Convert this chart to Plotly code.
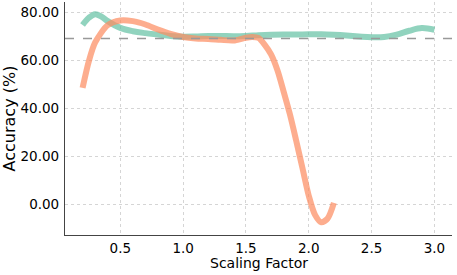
import plotly.graph_objects as go

# Data
scaling_green = [0.2, 0.25, 0.3, 0.35, 0.4, 0.5, 0.6, 0.7, 0.8, 0.9, 1.0, 1.1, 1.2, 1.3, 1.4, 1.5,
                 1.6, 1.7, 1.8, 1.9, 2.0, 2.1, 2.2, 2.3, 2.4, 2.5, 2.6, 2.7, 2.8, 2.9, 3.0]
acc_green = [74.8, 77.8, 79.3, 78.3, 76.4, 73.6, 72.2, 71.4, 70.8, 70.2, 69.9, 70.0, 70.2, 70.2, 70.1, 70.2,
             70.5, 70.7, 70.8, 70.8, 70.9, 70.9, 70.7, 70.4, 70.0, 69.7, 69.8, 70.8, 72.4, 73.5, 72.8]

scaling_orange = [0.2, 0.25, 0.3, 0.4, 0.5, 0.6, 0.7, 0.8, 0.9, 1.0, 1.1, 1.2, 1.3, 1.4, 1.5, 1.55,
                  1.6, 1.65, 1.7, 1.75, 1.8, 1.85, 1.9, 1.95, 2.0, 2.05, 2.1, 2.15, 2.2]
acc_orange = [48.5, 59.7, 67.5, 74.7, 76.7, 76.4, 75.0, 72.9, 71.1, 69.8, 69.2, 69.0, 68.6, 68.3, 69.5, 69.8,
              69.4, 66.5, 62.5, 56.0, 47.0, 37.5, 26.5, 15.0, 3.5, -4.5, -7.6, -6.0, 0.5]

baseline = 69.2

x_ticks = [0.5, 1.0, 1.5, 2.0, 2.5, 3.0]
y_ticks = [0, 20, 40, 60, 80]

fig = go.Figure()
fig.add_trace(go.Scatter(x=scaling_green, y=acc_green, mode="lines",
                         line=dict(color="rgba(102,194,165,0.72)", width=6, shape="spline", smoothing=1.0),
                         showlegend=False))
fig.add_trace(go.Scatter(x=scaling_orange, y=acc_orange, mode="lines",
                         line=dict(color="rgba(252,141,98,0.72)", width=6, shape="spline", smoothing=0.8),
                         showlegend=False))
fig.add_shape(type="line", xref="paper", x0=0, x1=1, yref="y", y0=baseline, y1=baseline,
              line=dict(color="#999999", width=1.5, dash="dash"), layer="above")

font = dict(family="DejaVu Sans", size=13.5, color="black")
fig.add_annotation(text="Scaling Factor", xref="paper", yref="paper", x=0.5, y=0,
                   xanchor="center", yanchor="top", yshift=-19, showarrow=False,
                   font=dict(family="DejaVu Sans", size=14, color="black"), borderpad=0)
fig.update_layout(
    width=457, height=275,
    margin=dict(l=65, r=5, t=2, b=40, autoexpand=False),
    paper_bgcolor="white", plot_bgcolor="white",
    font=font,
    xaxis=dict(range=[0.06, 3.14], tickvals=x_ticks, ticktext=[f"{v:.1f}" for v in x_ticks],
               showgrid=True, gridcolor="#d5d5d5", griddash="dot", gridwidth=1,
               showline=True, linecolor="#444444", linewidth=1.2, zeroline=False,
               ticks="outside", ticklen=1, tickcolor="rgba(0,0,0,0)", automargin=False,
               tickfont=font),
    yaxis=dict(range=[-12.9, 84.4], tickvals=y_ticks, ticktext=[f"{v:.2f}" for v in y_ticks],
               showgrid=True, gridcolor="#d5d5d5", griddash="dot", gridwidth=1,
               showline=True, linecolor="#444444", linewidth=1.2, zeroline=False,
               ticks="outside", ticklen=2, tickcolor="rgba(0,0,0,0)", automargin=False,
               title=dict(text="Accuracy (%)", standoff=4), tickfont=font),
)

fig.write_html("out.html", config={"displayModeBar": False},
               post_script="document.body.style.margin='0';")
